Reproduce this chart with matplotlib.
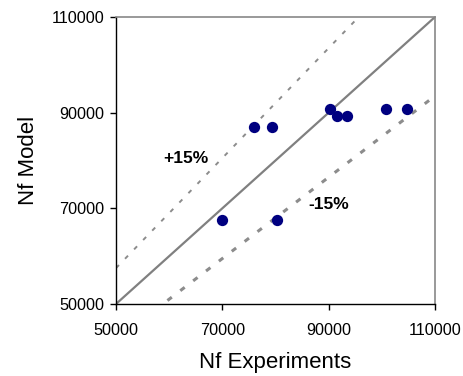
import matplotlib
matplotlib.use("Agg")
import matplotlib.pyplot as plt
import numpy as np

plt.rcParams['font.family'] = ['Liberation Sans', 'DejaVu Sans']

nf_experiments = [70000, 80300, 76000, 79300, 90300, 91600, 93500, 100700, 104700]
nf_model = [67500, 67500, 87000, 87000, 90800, 89300, 89300, 90800, 90800]
ticks = [50000, 70000, 90000, 110000]
upper_factor = 1.15
lower_factor = 0.85

fig = plt.figure(figsize=(4.63, 3.76), dpi=100)
ax = fig.add_axes([0.2505, 0.1915, 0.689, 0.7633])

xs = np.array([50000, 110000])
ax.plot(xs, xs, color='#808080', lw=1.6, zorder=2)
ax.plot(xs, xs * upper_factor, color='#8c8c8c', lw=1.4, dashes=(2.2, 4.5), zorder=2)
ax.plot(xs, xs * lower_factor, color='#8c8c8c', lw=2.2, dashes=(1.8, 3.5), zorder=2)

ax.scatter(nf_experiments, nf_model, s=66, color='#000080', zorder=3, linewidths=0)

ax.text(63100, 80500, '+15%', fontsize=12.5, fontweight='bold', ha='center', va='center')
ax.text(90000, 70700, '-15%', fontsize=12.5, fontweight='bold', ha='center', va='center')

ax.set_xlim(50000, 110000)
ax.set_ylim(50000, 110000)
ax.set_xticks(ticks)
ax.set_yticks(ticks)
ax.set_xticklabels([str(t) for t in ticks], fontsize=11.7)
ax.set_yticklabels([str(t) for t in ticks], fontsize=11.7)
ax.tick_params(axis='x', direction='out', length=4.5, width=1, pad=9.5)
ax.tick_params(axis='y', direction='out', length=4.5, width=1, pad=4)
ax.set_xlabel('Nf Experiments', fontsize=16, labelpad=10)
ax.set_ylabel('Nf Model', fontsize=16, labelpad=9)

for s in ['top', 'right']:
    ax.spines[s].set_color('#888888')
    ax.spines[s].set_linewidth(1.2)
for s in ['left', 'bottom']:
    ax.spines[s].set_color('black')
    ax.spines[s].set_linewidth(1.0)

fig.savefig('out.png', dpi=100)
